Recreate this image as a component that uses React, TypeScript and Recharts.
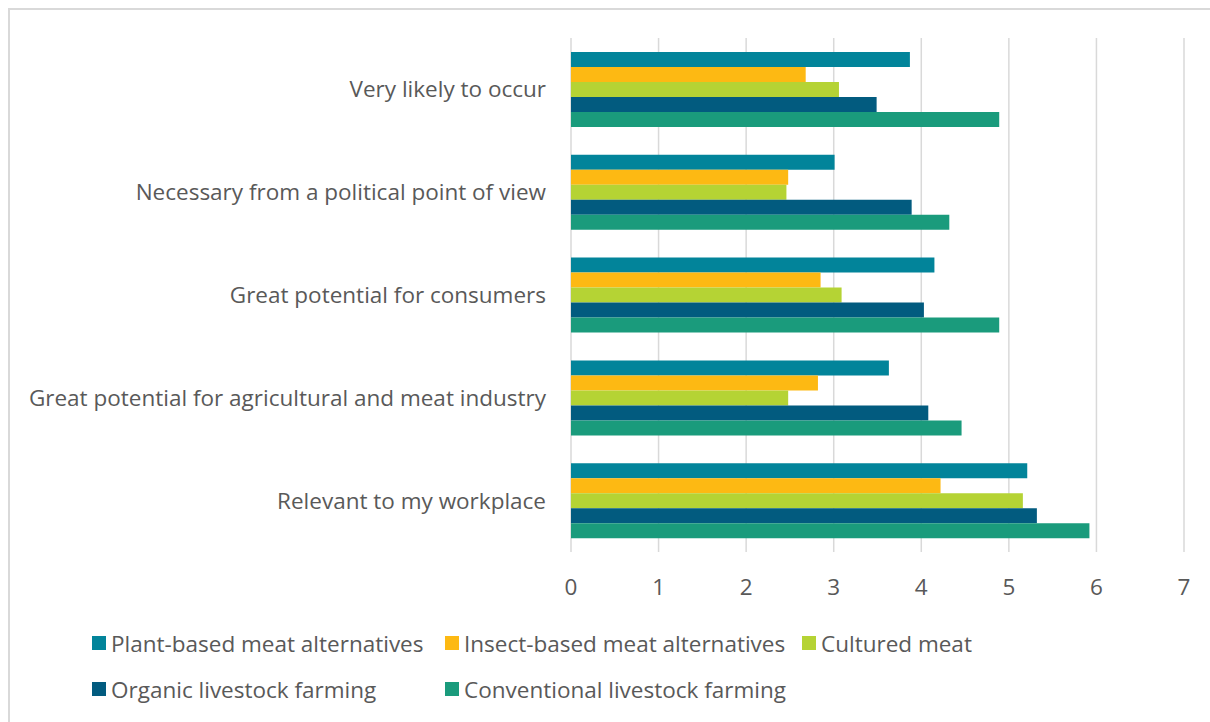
import { BarChart, Bar, XAxis, YAxis, CartesianGrid } from "recharts";

const categories = [
  "Very likely to occur",
  "Necessary from a political point of view",
  "Great potential for consumers",
  "Great potential for agricultural and meat industry",
  "Relevant to my workplace",
];

const plantBased = [3.87, 3.01, 4.15, 3.63, 5.21];
const insectBased = [2.68, 2.48, 2.85, 2.82, 4.22];
const culturedMeat = [3.06, 2.46, 3.09, 2.48, 5.16];
const organicFarming = [3.49, 3.89, 4.03, 4.08, 5.32];
const conventionalFarming = [4.89, 4.32, 4.89, 4.46, 5.92];

const xTicks = [0, 1, 2, 3, 4, 5, 6, 7];

const series = [
  { key: "plant", name: "Plant-based meat alternatives", color: "#02849A" },
  { key: "insect", name: "Insect-based meat alternatives", color: "#FDB913" },
  { key: "cultured", name: "Cultured meat", color: "#B5D334" },
  { key: "organic", name: "Organic livestock farming", color: "#025B7F" },
  { key: "conventional", name: "Conventional livestock farming", color: "#1A9B7C" },
];

const data = categories.map((category, i) => ({
  category,
  plant: plantBased[i],
  insect: insectBased[i],
  cultured: culturedMeat[i],
  organic: organicFarming[i],
  conventional: conventionalFarming[i],
}));

const FONT = "'Open Sans', 'Noto Sans', sans-serif";
const TEXT = "#595959";
const FS = 22.5;

export default function App() {
  return (
    <>
      <style>{"html, body { overflow: hidden; }"}</style>
      <div
        style={{
          position: "absolute",
          left: 8,
          top: 8,
          width: 1220,
          height: 730,
          borderTop: "2px solid #d9d9d9",
          borderLeft: "2px solid #d9d9d9",
          fontFamily: FONT,
          boxSizing: "border-box",
        }}
      >
        <BarChart
          width={1188}
          height={600}
          layout="vertical"
          data={data}
          margin={{ top: 28, right: 14, bottom: 28, left: 0 }}
          barGap={0}
          barSize={15}
        >
          <CartesianGrid horizontal={false} stroke="#d9d9d9" strokeWidth={1.5} />
          <XAxis
            type="number"
            domain={[0, 7]}
            ticks={xTicks}
            axisLine={false}
            tickLine={false}
            tickSize={0}
            tickMargin={27}
            height={30}
            tick={{ fill: TEXT, fontSize: FS, fontFamily: FONT }}
          />
          <YAxis
            type="category"
            dataKey="category"
            width={561}
            axisLine={false}
            tickLine={false}
            tickSize={0}
            tickMargin={25}
            tick={{ fill: TEXT, fontSize: FS, fontFamily: FONT }}
          />
          {series.map((s) => (
            <Bar
              key={s.key}
              dataKey={s.key}
              name={s.name}
              fill={s.color}
              isAnimationActive={false}
            />
          ))}
        </BarChart>
        <div
          style={{
            display: "grid",
            gridTemplateColumns: "353px 357px 300px",
            paddingLeft: 82,
            marginTop: 10,
            color: TEXT,
            fontSize: FS,
          }}
        >
          {series.map((s, i) => (
            <div
              key={s.key}
              style={{
                gridColumn: i < 3 ? i + 1 : i - 2,
                display: "flex",
                alignItems: "center",
                height: 46,
                whiteSpace: "nowrap",
              }}
            >
              <span
                style={{
                  display: "inline-block",
                  width: 14,
                  height: 14,
                  background: s.color,
                  marginRight: 5,
                }}
              />
              {s.name}
            </div>
          ))}
        </div>
      </div>
    </>
  );
}
